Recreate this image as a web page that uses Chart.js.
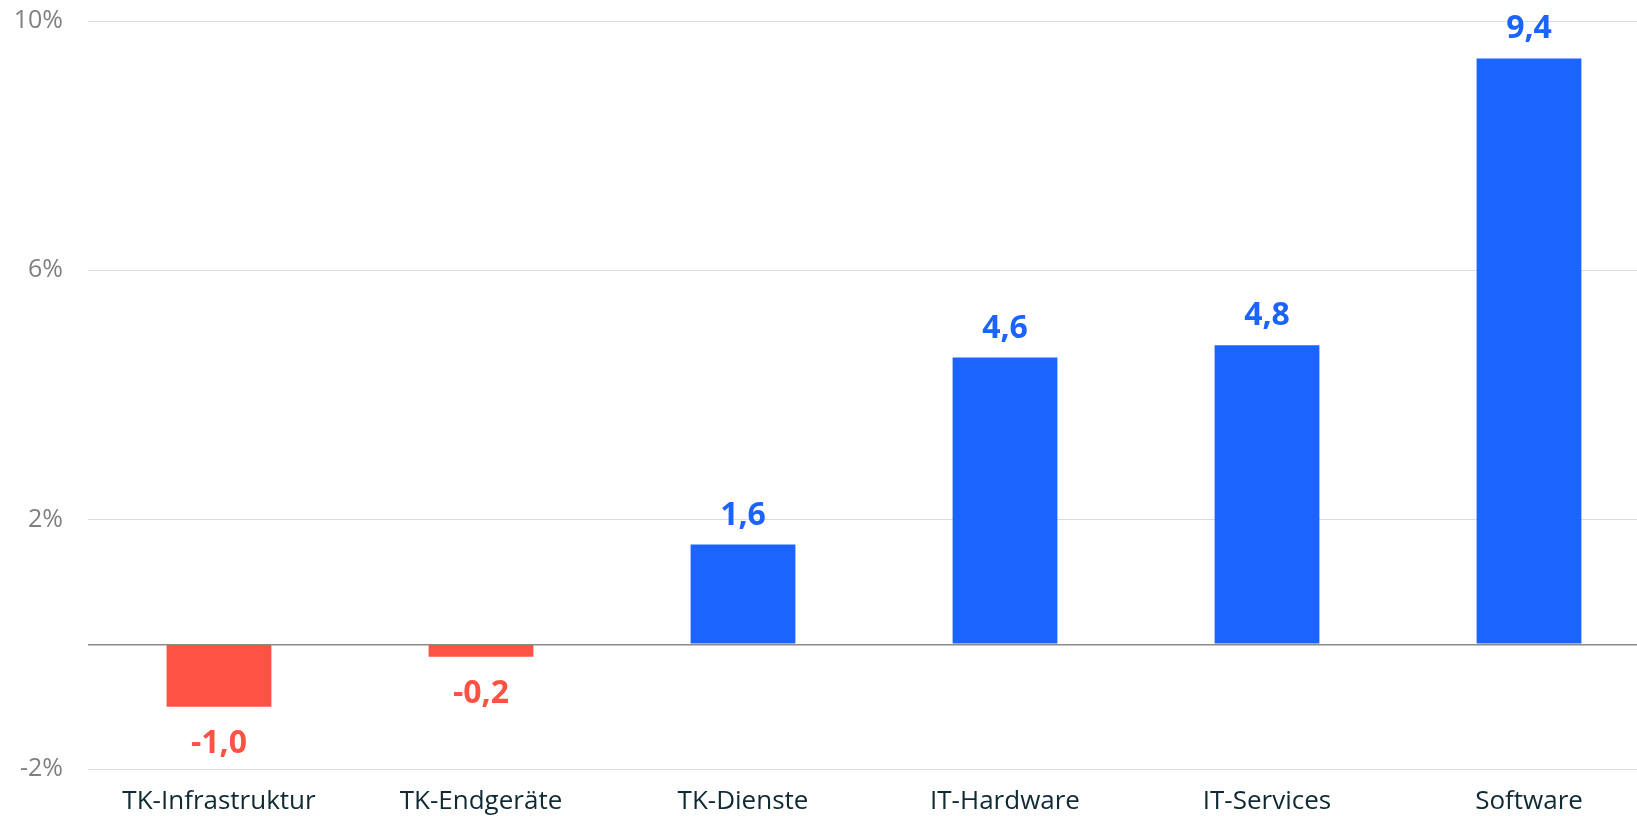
<!DOCTYPE html>
<html>
<head>
<meta charset="utf-8">
<script src="https://cdn.jsdelivr.net/npm/chart.js@4"></script>
<style>
  html, body { margin: 0; padding: 0; background: #fff; overflow: hidden; }
  #wrap { position: relative; width: 1660px; height: 816px; }
</style>
</head>
<body>
<div id="wrap"><canvas id="chart"></canvas></div>
<script>
// Daten
const kategorien = ['TK-Infrastruktur', 'TK-Endgeräte', 'TK-Dienste', 'IT-Hardware', 'IT-Services', 'Software'];
const wachstum = [-1.0, -0.2, 1.6, 4.6, 4.8, 9.4];
const yTicks = [-2, 0, 2, 6, 10];

const BLAU = '#1c64ff';
const ROT = '#ff5245';

// Werte über / unter den Balken schreiben
const wertLabels = {
    id: 'wertLabels',
    afterDatasetsDraw(chart) {
        const ctx = chart.ctx;
        const meta = chart.getDatasetMeta(0);
        ctx.save();
        ctx.font = 'bold 32px "Open Sans"';
        ctx.textAlign = 'center';
        ctx.textBaseline = 'alphabetic';
        meta.data.forEach((bar, i) => {
            const v = wachstum[i];
            const txt = v.toFixed(1).replace('.', ',');
            ctx.fillStyle = v < 0 ? ROT : BLAU;
            const y = v < 0 ? bar.y + 46 : bar.y - 20;
            ctx.fillText(txt, bar.x, y);
        });
        ctx.restore();
    }
};

window.addEventListener('DOMContentLoaded', () => {
    const ctx = document.getElementById('chart').getContext('2d');
    new Chart(ctx, {
        type: 'bar',
        data: {
            labels: kategorien,
            datasets: [{
                data: wachstum,
                backgroundColor: wachstum.map(v => v < 0 ? ROT : BLAU),
                borderWidth: 0,
                categoryPercentage: 1,
                barPercentage: 0.4
            }]
        },
        options: {
            responsive: true,
            maintainAspectRatio: false,
            animation: false,
            layout: { padding: { top: 21, left: 0, right: 0, bottom: 0 } },
            plugins: {
                legend: { display: false },
                tooltip: { enabled: false }
            },
            scales: {
                x: {
                    grid: { display: false, drawTicks: false },
                    border: { display: false },
                    ticks: {
                        color: '#0f2a33',
                        font: { family: '"Open Sans"', size: 26 },
                        padding: 17,
                        maxRotation: 0,
                        autoSkip: false
                    },
                    afterFit: s => { s.height = 47; }
                },
                y: {
                    min: -2,
                    max: 10,
                    afterBuildTicks: s => { s.ticks = yTicks.map(v => ({ value: v })); },
                    grid: {
                        drawTicks: false,
                        color: c => c.tick && c.tick.value === 0 ? '#8a8a8a' : '#dddddd',
                        lineWidth: c => c.tick && c.tick.value === 0 ? 1.5 : 1
                    },
                    border: { display: false },
                    ticks: {
                        color: '#808080',
                        font: { family: '"Open Sans"', size: 25 },
                        padding: 25,
                        callback: v => v === 0 ? '' : v + '%'
                    },
                    afterFit: s => { s.width = 88; s.paddingTop = 0; }
                }
            }
        },
        plugins: [wertLabels]
    });
});
</script>
</body>
</html>
